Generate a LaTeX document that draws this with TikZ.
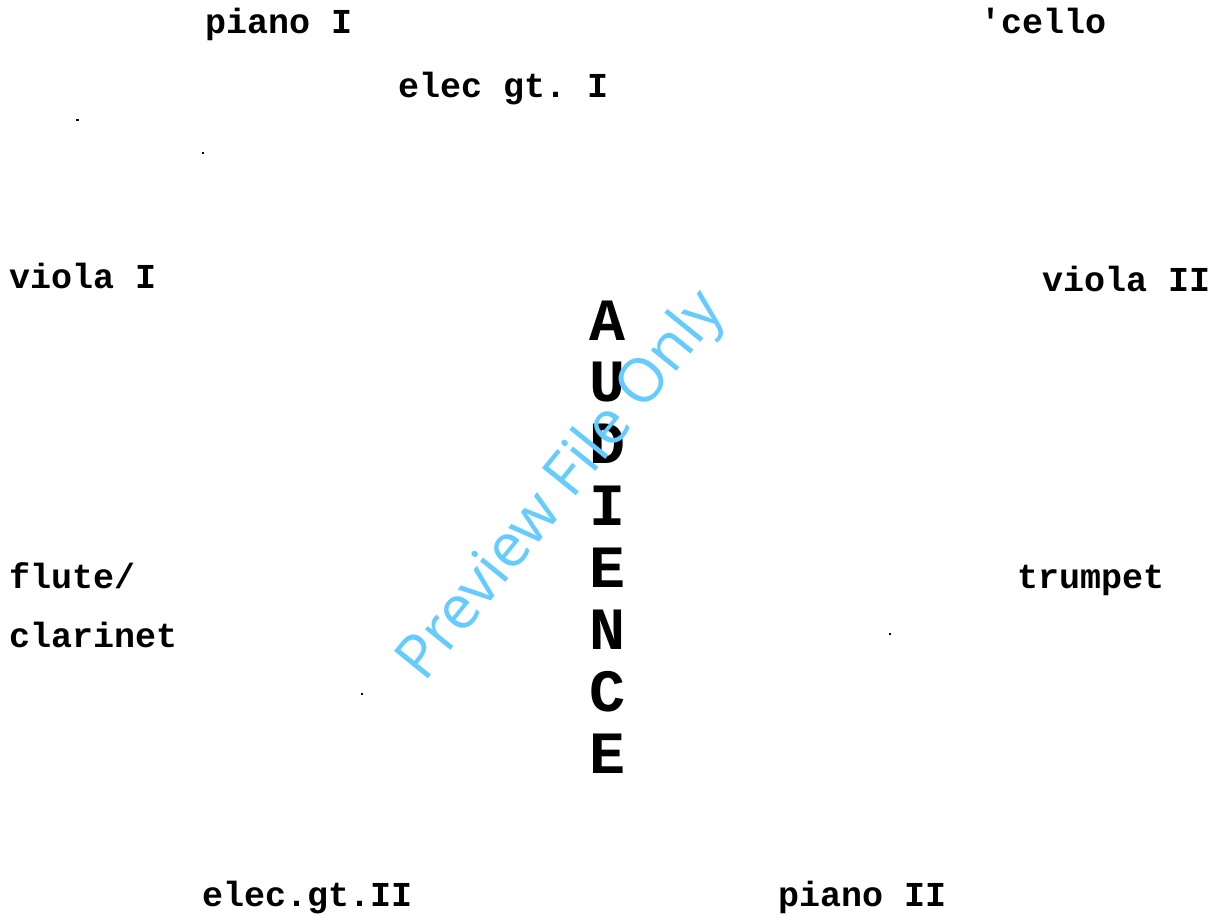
\documentclass[tikz,border=0pt]{standalone}
\usepackage{fontspec}
\setmonofont{Liberation Mono}
\newfontfamily\wmfont{Open Sans}
\definecolor{wmblue}{RGB}{102,204,255}
\tikzset{
  lbl/.style={anchor=base west, inner sep=0pt, font=\ttfamily\bfseries\fontsize{35}{35}\selectfont},
  aud/.style={anchor=base, inner sep=0pt, font=\ttfamily\bfseries\fontsize{60}{60}\selectfont},
  speck/.style={fill=black, draw=none}
}
\begin{document}
\begin{tikzpicture}[x=1pt,y=-1pt]
\useasboundingbox[fill=white] (0,0) rectangle (1219,914);
\node[lbl] (pianoI) at (205,33) {piano I};
\node[lbl] (cello) at (980,33) {'cello};
\node[lbl] (elecI) at (398,97) {elec gt. I};
\node[lbl] (violaI) at (9,288) {viola I};
\node[lbl] (violaII) at (1042,291) {viola II};
\node[lbl] (flute) at (9,588) {flute/};
\node[lbl] (clar) at (9,647) {clarinet};
\node[lbl] (trumpet) at (1017,588) {trumpet};
\node[lbl] (elecII) at (202,906) {elec.gt.II};
\node[lbl] (pianoII) at (778,906) {piano II};
\foreach \ch [count=\i from 0] in {A,U,D,I,E,N,C,E} {
  \node[aud] (aud\i) at (607,{340+61.9*\i}) {\ch};
}
\fill[speck] (76,119) rectangle (79,121);
\fill[speck] (202,152) rectangle (204,154);
\fill[speck] (361,693) rectangle (363,695);
\fill[speck] (889,633) rectangle (891,635);
\node[inner sep=0pt, rotate=51, text=wmblue, font=\wmfont\fontsize{61}{61}\selectfont] (wm) at (563,487) {Preview File Only};
\end{tikzpicture}
\end{document}
